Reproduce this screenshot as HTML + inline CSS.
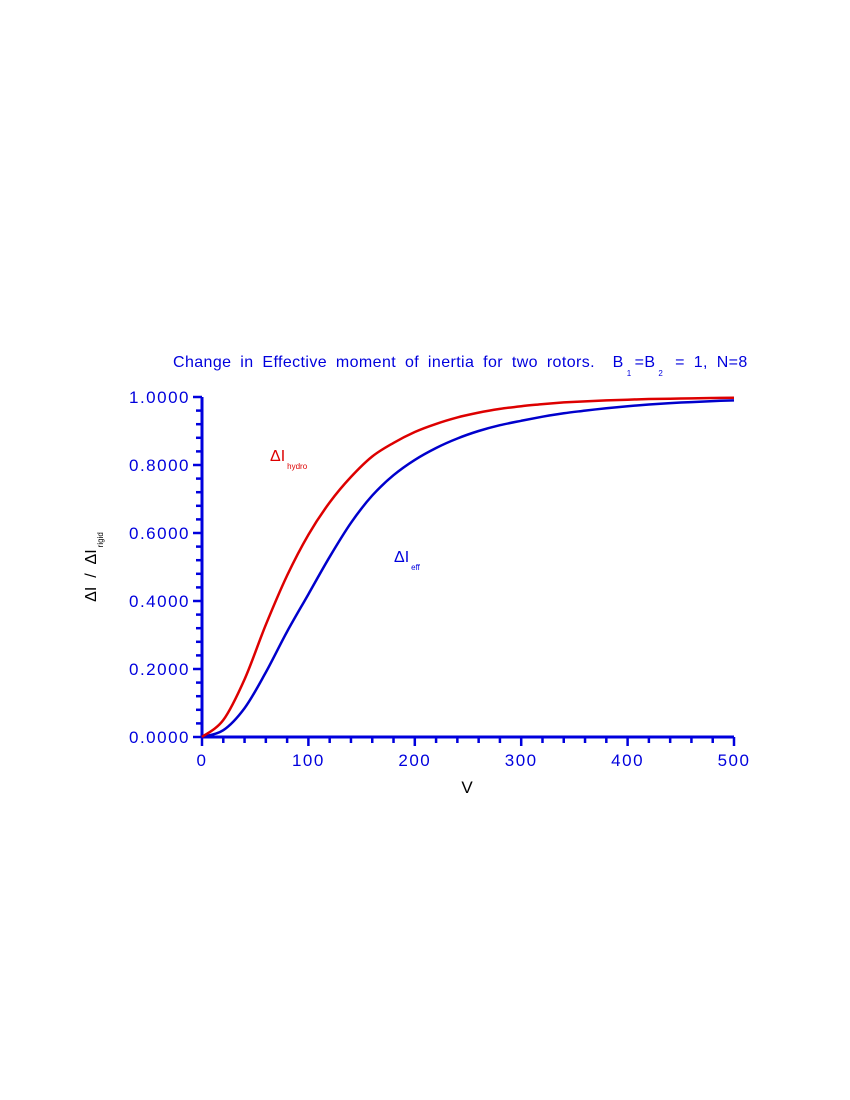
<!DOCTYPE html>
<html><head><meta charset="utf-8"><style>
html,body{margin:0;padding:0;background:#fff;width:850px;height:1100px;overflow:hidden}
svg{display:block;font-family:"Liberation Sans",sans-serif}
</style></head><body>
<svg id="chart" width="850" height="1100" viewBox="0 0 850 1100">
<text x="173" y="367" font-size="16" fill="#0000dd" word-spacing="4" letter-spacing="0.4" xml:space="preserve">Change in Effective moment of inertia for two rotors.  B<tspan font-size="8" dy="9" dx="3">1</tspan><tspan dy="-9" dx="3">=B</tspan><tspan font-size="8" dy="9" dx="3">2</tspan><tspan dy="-9" dx="3"> = 1, N=8</tspan></text>
<g id="axes"></g>
<g id="series"></g>
<text x="467" y="793" font-size="17" text-anchor="middle" fill="#000">V</text>
<g transform="translate(96,567) rotate(-90)"><text x="0" y="0" font-size="16" text-anchor="middle" fill="#000" xml:space="preserve">ΔI  /  ΔI<tspan font-size="8" dy="7" dx="2">rigid</tspan></text></g>
<text x="270" y="461" font-size="16" fill="#dd0000">ΔI<tspan font-size="8" dy="8" dx="2">hydro</tspan></text>
<text x="394" y="562" font-size="16" fill="#0000dd">ΔI<tspan font-size="8" dy="8" dx="2">eff</tspan></text>
</svg>
<script>
const xVals=[0,20,40,60,80,100,120,140,160,180,200,220,240,260,280,300,320,340,360,380,400,420,440,460,480,500];
const hydroVals=[0,0.05,0.17,0.33,0.475,0.595,0.69,0.765,0.825,0.865,0.897,0.921,0.94,0.954,0.965,0.973,0.979,0.984,0.987,0.99,0.992,0.994,0.995,0.996,0.997,0.998];
const effVals=[0,0.02,0.085,0.19,0.31,0.42,0.53,0.63,0.71,0.77,0.815,0.85,0.878,0.90,0.917,0.93,0.942,0.952,0.96,0.967,0.973,0.978,0.982,0.985,0.988,0.99];
const xTicks=[0,100,200,300,400,500];
const yTicks=[0,0.2,0.4,0.6,0.8,1.0];
const NS="http://www.w3.org/2000/svg";
const X0=202,X1=734,Y0=737,Y1=397;
function sx(v){return X0+(v/500)*(X1-X0);}
function sy(v){return Y0-v*(Y0-Y1);}
const C="#0000dd";
const axes=document.getElementById('axes');
function mk(tag,attrs,parent){const e=document.createElementNS(NS,tag);for(const k in attrs)e.setAttribute(k,attrs[k]);parent.appendChild(e);return e;}
let l=mk('line',{x1:X0,y1:Y0,x2:X1,y2:Y0,stroke:C,'stroke-width':3},axes);


l=mk('line',{x1:X0,y1:Y0+1,x2:X0,y2:Y1,stroke:C,'stroke-width':3},axes);


for(let v=0;v<=500;v+=20){const major=v%100===0;const t=mk('line',{x1:sx(v),y1:Y0,x2:sx(v),y2:Y0+(major?9:6),stroke:C,'stroke-width':2.5},axes);

}
for(let i=0;i<=25;i++){const v=i*0.04;const major=i%5===0;const t=mk('line',{x1:X0,y1:sy(v),x2:X0-(major?9:6),y2:sy(v),stroke:C,'stroke-width':2.5},axes);

}
xTicks.forEach(v=>{const t=mk('text',{x:sx(v),y:Y0+29,'font-size':17,'text-anchor':'middle',fill:C,'letter-spacing':1.5},axes);t.textContent=v;

});
yTicks.forEach(v=>{const t=mk('text',{x:X0-12,y:sy(v)+6,'font-size':17,'text-anchor':'end',fill:C,'letter-spacing':1.5},axes);t.textContent=v.toFixed(4);

});
const series=document.getElementById('series');
function path(vals){
  const P=vals.map((v,i)=>[sx(xVals[i]),sy(v)]);
  let d='M'+P[0][0].toFixed(1)+','+P[0][1].toFixed(1);
  for(let i=0;i<P.length-1;i++){
    const p0=P[Math.max(0,i-1)],p1=P[i],p2=P[i+1],p3=P[Math.min(P.length-1,i+2)];
    const c1=[p1[0]+(p2[0]-p0[0])/6,p1[1]+(p2[1]-p0[1])/6];
    const c2=[p2[0]-(p3[0]-p1[0])/6,p2[1]-(p3[1]-p1[1])/6];
    d+=' C'+c1[0].toFixed(1)+','+c1[1].toFixed(1)+' '+c2[0].toFixed(1)+','+c2[1].toFixed(1)+' '+p2[0].toFixed(1)+','+p2[1].toFixed(1);
  }
  return d;
}
let p=mk('path',{d:path(effVals),fill:'none',stroke:'#0000cc','stroke-width':2.5,'stroke-linejoin':'round'},series);


p=mk('path',{d:path(hydroVals),fill:'none',stroke:'#dd0000','stroke-width':2.5,'stroke-linejoin':'round'},series);


</script>
</body></html>
